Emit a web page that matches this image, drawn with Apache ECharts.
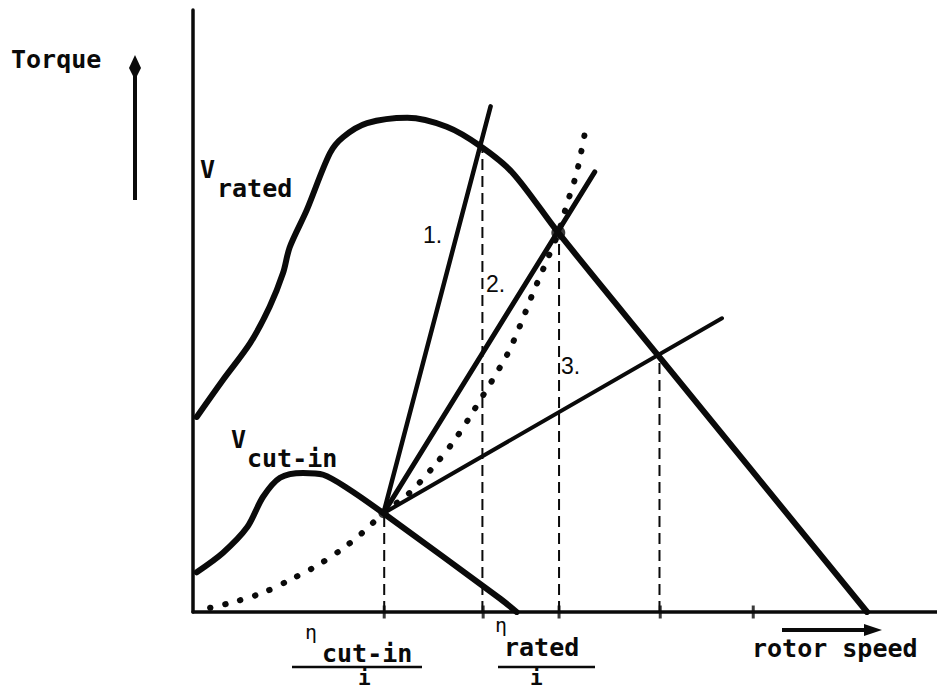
<!DOCTYPE html>
<html>
<head>
<meta charset="utf-8">
<title>Torque vs rotor speed</title>
<script src="https://cdn.jsdelivr.net/npm/echarts@6/dist/echarts.min.js"></script>
<style>
  html, body { margin: 0; padding: 0; background: #fff; }
  #chart { width: 937px; height: 691px; }
</style>
</head>
<body>
<div id="chart"></div>
<script>
// Torque–speed characteristics (speed and torque in relative units 0..100)

// Generator torque curve at rated wind speed
const vRatedCurve = [
  [0.5, 32.4], [4.0, 38.5], [7.7, 44.7], [10.3, 50.7], [12.1, 56.3], [13.0, 60.6],
  [15.3, 66.8], [18.4, 76.2], [20.2, 78.9], [23.4, 81.2], [28.8, 82.1], [34.1, 80.6],
  [38.6, 77.4], [43.0, 72.9], [49.1, 63.0], [62.4, 42.8], [90.6, 0]
];

// Torque curve at cut-in wind speed
const vCutInCurve = [
  [0.5, 6.6], [4.0, 9.8], [7.3, 14.1], [9.4, 19.1], [11.7, 22.3], [14.8, 23.1],
  [17.5, 22.8], [20.7, 20.6], [25.6, 16.4], [41.3, 2.2], [43.5, 0]
];

// Optimum load curve, dotted
const optimumCurve = [
  [2.3, 0.7], [5.6, 1.7], [9.4, 3.2], [13.0, 5.3], [16.8, 7.8], [20.2, 10.6],
  [22.7, 13.1], [25.6, 16.4], [29.2, 19.9], [32.3, 24.1], [34.9, 28.1], [37.2, 32.4],
  [42.2, 42.7], [44.0, 47.7], [45.7, 53.0], [47.6, 58.5], [49.1, 63.0], [50.3, 67.9],
  [51.6, 73.1], [52.8, 80.4]
];

// Straight load lines 1, 2, 3 through the cut-in operating point
const loadLine1 = [[25.6, 16.4], [40.0, 84.0]];
const loadLine2 = [[25.6, 16.4], [54.0, 73.1]];
const loadLine3 = [[25.6, 16.4], [71.1, 48.8]];
const loadLineNames = ['1.', '2.', '3.'];

// Operating points where load lines meet the torque curves
const operatingPoints = [[25.7, 16.4], [38.9, 77.4], [49.2, 63.0], [62.7, 42.8]];
// Marked points (dots)
const markedPoints = [[25.6, 16.4], [49.1, 63.0]];
// Tick positions on the speed axis
const speedTicks = [25.7, 39.0, 49.2, 62.8, 75.3];

const BLACK = '#0a0a0a';
const MONO = '"DejaVu Sans Mono", "Liberation Mono", monospace';
const SANS = '"Liberation Sans", Arial, sans-serif';

const chart = echarts.init(document.getElementById('chart'), null, { renderer: 'svg' });

function solid(data, width, smooth) {
  return {
    type: 'line', data: data, smooth: smooth || false, symbol: 'none',
    lineStyle: { color: BLACK, width: width, cap: 'round', join: 'round' },
    silent: true, z: 3
  };
}

const dropLines = operatingPoints.map(p => ({
  type: 'line', data: [[p[0], 0], p], symbol: 'none', silent: true, z: 2,
  lineStyle: { color: BLACK, width: 2, type: [11, 6] }
}));

const series = [
  solid(vRatedCurve, 6, 0.3),
  solid(vCutInCurve, 6, 0.3),
  solid(loadLine1, 4.5),
  solid(loadLine2, 5),
  solid(loadLine3, 4),
  {
    type: 'line', data: optimumCurve, smooth: 0.3, symbol: 'none', silent: true, z: 3,
    lineStyle: { color: BLACK, width: 6, type: [0.5, 15], cap: 'round' }
  },
  ...dropLines,
  {
    type: 'scatter', data: speedTicks.map(x => [x, 0]), symbol: 'rect',
    symbolSize: [3, 13], itemStyle: { color: BLACK }, silent: true, z: 4,
    clip: false
  },
  {
    type: 'scatter', data: markedPoints, symbol: 'circle',
    symbolSize: (v, p) => (p.dataIndex === 1 ? 14 : 10),
    itemStyle: { color: BLACK }, silent: true, z: 5
  }
];

function txt(x, y, text, size, family, weight) {
  return {
    type: 'text', x: x, y: y, silent: true, z: 10,
    style: {
      text: text, fill: BLACK,
      font: (weight || 'bold') + ' ' + size + 'px ' + (family || MONO),
      textAlign: 'left', textVerticalAlign: 'middle',
      align: 'left', verticalAlign: 'middle'
    }
  };
}

const graphics = [
  // axis titles
  txt(11, 59, 'Torque', 25),
  txt(752, 648, 'rotor speed', 25),
  // torque arrow
  { type: 'line', silent: true, shape: { x1: 135, y1: 200, x2: 135, y2: 68 },
    style: { stroke: BLACK, lineWidth: 4 } },
  { type: 'polygon', silent: true,
    shape: { points: [[135, 55], [141, 68], [137, 76], [133, 76], [129, 68]] },
    style: { fill: BLACK } },
  // speed arrow
  { type: 'line', silent: true, shape: { x1: 782, y1: 630, x2: 866, y2: 630 },
    style: { stroke: BLACK, lineWidth: 4 } },
  { type: 'polygon', silent: true,
    shape: { points: [[882, 630], [864, 624], [864, 636]] },
    style: { fill: BLACK } },
  // curve labels
  txt(200, 169, 'V', 25),
  txt(217, 188, 'rated', 25),
  txt(231, 439, 'V', 25),
  txt(247, 458, 'cut-in', 25),
  // load line labels
  txt(423, 235, loadLineNames[0], 23, SANS, 'normal'),
  txt(486, 284, loadLineNames[1], 23, SANS, 'normal'),
  txt(561, 366, loadLineNames[2], 23, SANS, 'normal'),
  // speed fractions under the axis
  txt(305, 632, 'η', 20, MONO, 'normal'),
  txt(322, 653, 'cut-in', 25),
  { type: 'line', silent: true, shape: { x1: 292, y1: 667, x2: 422, y2: 667 },
    style: { stroke: BLACK, lineWidth: 2.5 } },
  txt(358, 678, 'i', 21),
  txt(495, 625, 'η', 20, MONO, 'normal'),
  txt(504, 647, 'rated', 25),
  { type: 'line', silent: true, shape: { x1: 498, y1: 667, x2: 595, y2: 667 },
    style: { stroke: BLACK, lineWidth: 2.5 } },
  txt(530, 678, 'i', 21)
];

chart.setOption({
  animation: false,
  backgroundColor: '#ffffff',
  grid: { left: 193, right: 0, top: 10, bottom: 79, containLabel: false },
  xAxis: {
    type: 'value', min: 0, max: 100,
    axisLine: { show: true, onZero: false, lineStyle: { color: BLACK, width: 3.5 } },
    axisTick: { show: false }, axisLabel: { show: false }, splitLine: { show: false }
  },
  yAxis: {
    type: 'value', min: 0, max: 100,
    axisLine: { show: true, onZero: false, lineStyle: { color: BLACK, width: 3.5 } },
    axisTick: { show: false }, axisLabel: { show: false }, splitLine: { show: false }
  },
  series: series,
  graphic: graphics
});
</script>
</body>
</html>
